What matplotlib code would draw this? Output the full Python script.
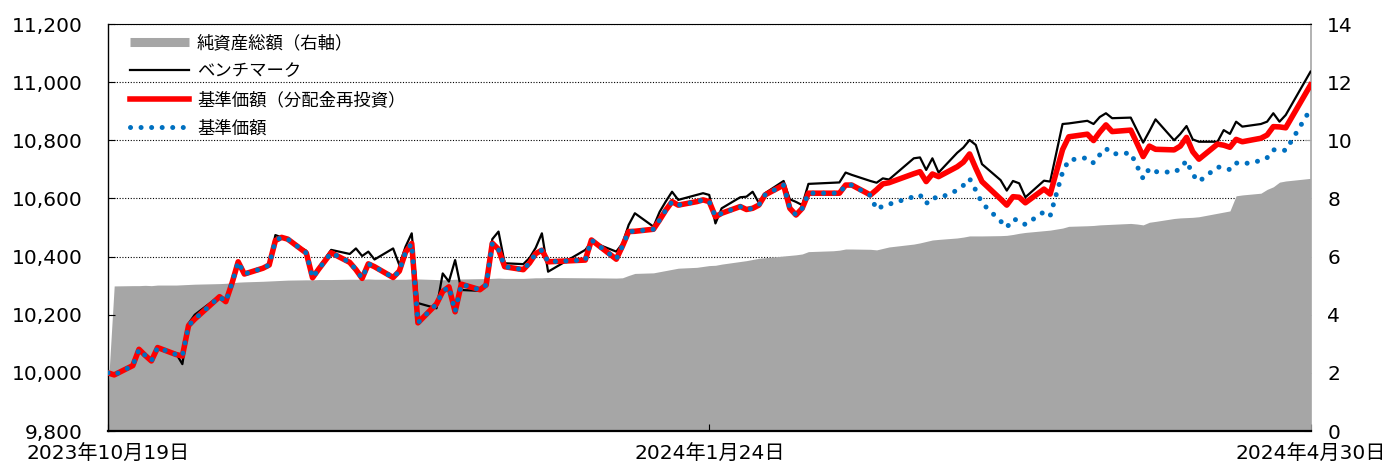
import pandas as pd
import matplotlib.pyplot as plt
from matplotlib.lines import Line2D
from matplotlib.ticker import FuncFormatter

plt.rcParams['font.family'] = ['DejaVu Sans', 'Noto Sans CJK JP']

# 営業日（月ごとの日付）
days = {
    '2023-10': [19, 20, 23, 24, 25, 26, 27, 30, 31],
    '2023-11': [1, 2, 6, 7, 8, 9, 10, 13, 14, 15, 16, 17, 20, 21, 22, 24, 27, 28, 29, 30],
    '2023-12': [1, 4, 5, 6, 7, 8, 11, 12, 13, 14, 15, 18, 19, 20, 21, 22, 25, 26, 27, 28, 29],
    '2024-01': [4, 5, 9, 10, 11, 12, 15, 16, 17, 18, 19, 22, 23, 24, 25, 26, 29, 30, 31],
    '2024-02': [1, 2, 5, 6, 7, 8, 9, 13, 14, 15, 16, 19, 20, 21, 22, 26, 27, 28, 29],
    '2024-03': [1, 4, 5, 6, 7, 8, 11, 12, 13, 14, 15, 18, 19, 21, 22, 25, 26, 27, 28, 29],
    '2024-04': [1, 2, 3, 4, 5, 8, 9, 10, 11, 12, 15, 16, 17, 18, 19, 22, 23, 24, 25, 26, 30],
}
dates = pd.to_datetime([f'{m}-{d:02d}' for m, ds in days.items() for d in ds])

# 基準価額（分配金再投資）
nav_re = [10000, 9993, 10025, 10081, 10060, 10041, 10087, 10063, 10058,
          10163, 10185, 10262, 10245, 10308, 10382, 10340, 10360, 10371, 10455, 10466, 10460,
          10412, 10327, 10357, 10413, 10380, 10355, 10325, 10375,
          10365, 10328, 10350, 10415, 10445, 10172, 10237, 10280, 10296, 10210, 10305,
          10286, 10302, 10446, 10425, 10365, 10355, 10378, 10410, 10422, 10382,
          10388, 10457, 10391, 10436, 10486, 10487, 10494, 10526, 10560, 10589, 10577,
          10589, 10595, 10589, 10537, 10549, 10572, 10562, 10566,
          10577, 10612, 10646, 10566, 10543, 10566, 10618, 10618, 10618, 10646, 10646,
          10612, 10630, 10650, 10654, 10685, 10692, 10658, 10684,
          10675, 10709, 10725, 10753, 10704, 10658, 10598, 10577, 10606, 10604, 10585,
          10632, 10615, 10768, 10812, 10821, 10799, 10828, 10853, 10830,
          10835, 10790, 10744, 10780, 10769, 10767, 10780, 10810, 10761, 10735,
          10787, 10783, 10776, 10803, 10795, 10807, 10818, 10847, 10846, 10843, 10990]

# ベンチマーク
bench = [10000, 9993, 10027, 10083, 10060, 10043, 10090, 10066, 10030,
         10170, 10200, 10265, 10245, 10312, 10385, 10342, 10360, 10371, 10474, 10466, 10455,
         10420, 10330, 10362, 10423, 10409, 10428, 10402, 10417,
         10390, 10428, 10371, 10434, 10480, 10240, 10222, 10342, 10314, 10388, 10285,
         10282, 10310, 10460, 10486, 10377, 10374, 10395, 10430, 10480, 10348,
         10423, 10451, 10417, 10445, 10509, 10549, 10503, 10554, 10590, 10623, 10595,
         10612, 10618, 10612, 10514, 10566, 10604, 10606, 10623,
         10585, 10618, 10660, 10597, 10588, 10577, 10650, 10654, 10655, 10689, 10681,
         10660, 10654, 10669, 10665, 10738, 10741, 10698, 10738,
         10689, 10757, 10775, 10801, 10784, 10718, 10663, 10627, 10660, 10652, 10604,
         10661, 10658, 10856, 10858, 10867, 10856, 10880, 10893, 10876,
         10878, 10835, 10792, 10831, 10872, 10800, 10822, 10849, 10803, 10795,
         10795, 10835, 10822, 10864, 10847, 10856, 10864, 10893, 10864, 10887, 11036]

# 基準価額
nav = [10000, 9993, 10025, 10081, 10060, 10041, 10087, 10063, 10058,
       10163, 10185, 10262, 10245, 10308, 10382, 10340, 10360, 10371, 10455, 10466, 10460,
       10412, 10327, 10357, 10413, 10380, 10355, 10325, 10375,
       10365, 10328, 10350, 10415, 10445, 10172, 10237, 10280, 10296, 10210, 10305,
       10286, 10302, 10446, 10425, 10365, 10355, 10378, 10410, 10422, 10382,
       10388, 10457, 10391, 10436, 10486, 10487, 10494, 10526, 10560, 10589, 10577,
       10589, 10595, 10589, 10537, 10549, 10572, 10562, 10566,
       10577, 10612, 10646, 10566, 10543, 10566, 10618, 10618, 10618, 10646, 10646,
       10610, 10562, 10574, 10580, 10606, 10612, 10582, 10604,
       10600, 10628, 10645, 10668, 10628, 10584, 10522, 10500, 10529, 10524, 10510,
       10554, 10540, 10690, 10732, 10740, 10722, 10750, 10772, 10753,
       10756, 10712, 10668, 10703, 10692, 10690, 10703, 10730, 10682, 10658,
       10708, 10706, 10699, 10722, 10718, 10730, 10740, 10767, 10768, 10765, 10907]

# 純資産総額（右軸）
net_assets = [1.4, 4.99, 5.00, 5.00, 5.01, 5.00, 5.02, 5.02, 5.03,
              5.04, 5.05, 5.07, 5.08, 5.10, 5.12, 5.13, 5.15, 5.16, 5.17, 5.18, 5.19,
              5.20, 5.20, 5.21, 5.21, 5.22, 5.22, 5.22, 5.23,
              5.22, 5.22, 5.22, 5.22, 5.23, 5.23, 5.21, 5.20, 5.21, 5.22, 5.23,
              5.24, 5.24, 5.25, 5.26, 5.25, 5.25, 5.26, 5.27, 5.27, 5.28,
              5.27, 5.27, 5.26, 5.27, 5.35, 5.42, 5.44, 5.48, 5.52, 5.56, 5.60,
              5.63, 5.66, 5.69, 5.70, 5.74, 5.83, 5.86, 5.90,
              5.94, 5.96, 6.02, 6.04, 6.06, 6.09, 6.17, 6.20, 6.22, 6.26, 6.26,
              6.25, 6.23, 6.28, 6.33, 6.43, 6.47, 6.52, 6.57,
              6.59, 6.64, 6.67, 6.71, 6.71, 6.71, 6.72, 6.73, 6.76, 6.80, 6.83,
              6.89, 6.91, 6.98, 7.04, 7.06, 7.07, 7.09, 7.10, 7.11,
              7.14, 7.12, 7.09, 7.18, 7.21, 7.31, 7.33, 7.34, 7.35, 7.37,
              7.49, 7.53, 7.57, 8.09, 8.12, 8.18, 8.31, 8.40, 8.56, 8.60, 8.69]

labels = ['純資産総額（右軸）', 'ベンチマーク', '基準価額（分配金再投資）', '基準価額']
tick_dates = pd.to_datetime(['2023-10-19', '2024-01-24', '2024-04-30'])

gray = '#A6A6A6'
fig = plt.figure(figsize=(13.89, 4.65), dpi=100)
ax = fig.add_axes([108 / 1389, 34 / 465, 1202.5 / 1389, 407 / 465])
ax2 = ax.twinx()
ax.set_zorder(ax2.get_zorder() + 1)
ax.patch.set_visible(False)

# 右軸：純資産総額
ax2.fill_between(dates, 0, net_assets, color=gray, lw=0, zorder=2)
ax2.set_ylim(0, 14)
ax2.set_yticks(range(0, 15, 2))
ax2.set_axisbelow(True)
ax2.grid(axis='y', color='black', lw=0.8, ls=(0, (1, 1.5)))
ax2.tick_params(axis='y', direction='in', length=5, color=gray, labelsize=14.5, pad=12)
for s in ax2.spines.values():
    s.set_visible(False)

# 左軸：基準価額など
ax.plot(dates, bench, color='black', lw=1.6, zorder=3)
ax.plot(dates, nav_re, color='#FF0000', lw=4.0, zorder=4)
ax.plot(dates, nav, color='#0070C0', lw=3.6, ls=(0, (0.01, 2.1)), dash_capstyle='round', zorder=5)

ax.set_ylim(9800, 11200)
ax.set_yticks(range(9800, 11201, 200))
ax.yaxis.set_major_formatter(FuncFormatter(lambda v, p: f'{v:,.0f}'))
ax.set_xlim(dates[0], dates[-1])
ax.set_xticks(tick_dates)
ax.set_xticklabels([f'{d.year}年{d.month}月{d.day}日' for d in tick_dates])
ax.tick_params(axis='y', direction='in', length=5, labelsize=14.5, pad=18)
ax.tick_params(axis='x', direction='in', length=5, labelsize=14.5, pad=10)

ax.spines['left'].set_linewidth(1.0)
ax.spines['bottom'].set_linewidth(1.6)
ax.spines['top'].set_linewidth(0.8)
ax.spines['right'].set_color(gray)
ax.spines['right'].set_linewidth(1.2)

handles = [Line2D([], [], color=gray, lw=6.5, solid_capstyle='butt'),
           Line2D([], [], color='black', lw=1.6),
           Line2D([], [], color='#FF0000', lw=4.0),
           Line2D([], [], color='#0070C0', lw=3.6, ls=(0, (0.01, 2.1)), dash_capstyle='round')]
ax.legend(handles, labels, loc='upper left', bbox_to_anchor=(22 / 1202.5, 1 - 10 / 407),
          frameon=False, borderaxespad=0, borderpad=0, handlelength=3.4, handletextpad=0.45,
          labelspacing=0.6, prop={'family': ['Noto Sans CJK JP'], 'size': 12.5})

fig.savefig('out.png', dpi=100)
